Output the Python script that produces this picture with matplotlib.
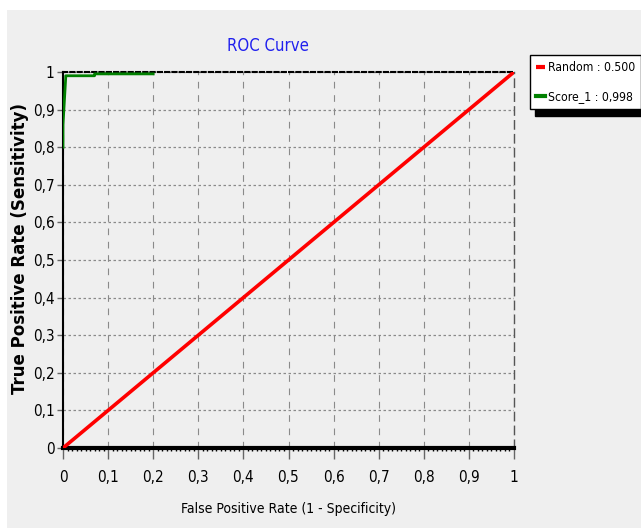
import matplotlib.pyplot as plt
from matplotlib.patches import Rectangle
from matplotlib.ticker import MultipleLocator, FuncFormatter

# Data
random_fpr = [0.0, 1.0]
random_tpr = [0.0, 1.0]
score_fpr = [0.0, 0.0, 0.006, 0.006, 0.07, 0.07, 0.2]
score_tpr = [0.8, 0.86, 0.985, 0.99, 0.99, 0.995, 0.995]
legend_labels = ["Random : 0.500", "Score_1 : 0,998"]
ticks = [0, 0.1, 0.2, 0.3, 0.4, 0.5, 0.6, 0.7, 0.8, 0.9, 1]

BG = "#efefef"
NARROW = dict(family="DejaVu Sans", stretch="condensed")

fig = plt.figure(figsize=(6.41, 5.31), dpi=100)
fig.patch.set_facecolor("white")
panel = Rectangle((7 / 641, 0.005), 1, (521 / 531) - 0.005,
                  transform=fig.transFigure, facecolor=BG,
                  edgecolor="none", zorder=-10)
fig.add_artist(panel)

ax = fig.add_axes([63 / 641, 83 / 531, 451 / 641, 376 / 531])
ax.set_facecolor(BG)

ax.plot(random_fpr, random_tpr, color="#ff0000", lw=2.6, label=legend_labels[0],
        solid_capstyle="butt", zorder=3)
ax.plot(score_fpr, score_tpr, color="#008000", lw=2.0, label=legend_labels[1], zorder=4)

ax.set_xlim(0, 1)
ax.set_ylim(0, 1)
ax.set_xticks(ticks)
ax.set_yticks(ticks)
fmt = FuncFormatter(lambda v, p: ("%g" % round(v, 1)).replace(".", ","))
ax.xaxis.set_major_formatter(fmt)
ax.yaxis.set_major_formatter(fmt)
ax.xaxis.set_minor_locator(MultipleLocator(0.01))

ax.grid(True, axis="x", color="#8a8a8a", linestyle=(0, (6, 6)), lw=0.8)
ax.grid(True, axis="y", color="#8a8a8a", linestyle=(0, (2, 2)), lw=0.9)

ax.spines["left"].set_linewidth(1.5)
ax.spines["bottom"].set_linewidth(3)
ax.spines["top"].set_linestyle((0, (2, 1.5)))
ax.spines["top"].set_linewidth(1.5)
ax.spines["right"].set_linestyle((0, (6, 4)))
ax.spines["right"].set_linewidth(1)
ax.spines["right"].set_color("#555555")

ax.tick_params(axis="x", which="major", length=8, width=1, color="#666666", pad=8,
               labelsize=11)
ax.tick_params(axis="x", which="minor", length=2.5, width=1, color="black")
ax.tick_params(axis="y", length=4, width=1, color="#666666", labelsize=11, pad=2)
for lab in ax.get_xticklabels() + ax.get_yticklabels():
    lab.set_family("DejaVu Sans")
    lab.set_stretch("condensed")

ax.set_title("ROC Curve", color="#2020ee", fontsize=12, pad=15, x=0.455, **NARROW)
ax.set_xlabel("False Positive Rate (1 - Specificity)", fontsize=10, labelpad=12,
              **NARROW)
ax.set_ylabel("True Positive Rate (Sensitivity)", fontsize=12, family="DejaVu Sans",
              fontweight="bold")
ax.yaxis.set_label_coords(-0.075, 0.53)

leg = ax.legend(loc="upper left", bbox_to_anchor=(1.035, 1.045), frameon=True,
                fancybox=False, shadow={"color": "black", "alpha": 1, "ox": 4, "oy": -5},
                handlelength=0.8, handletextpad=0.2, borderpad=0.5,
                borderaxespad=0, labelspacing=1.3,
                prop={"family": "DejaVu Sans", "stretch": "condensed", "size": 8.7})
leg.get_frame().set_edgecolor("black")
leg.get_frame().set_linewidth(1)
for line in leg.get_lines():
    line.set_linewidth(3)

fig.savefig("out.png", dpi=100)
